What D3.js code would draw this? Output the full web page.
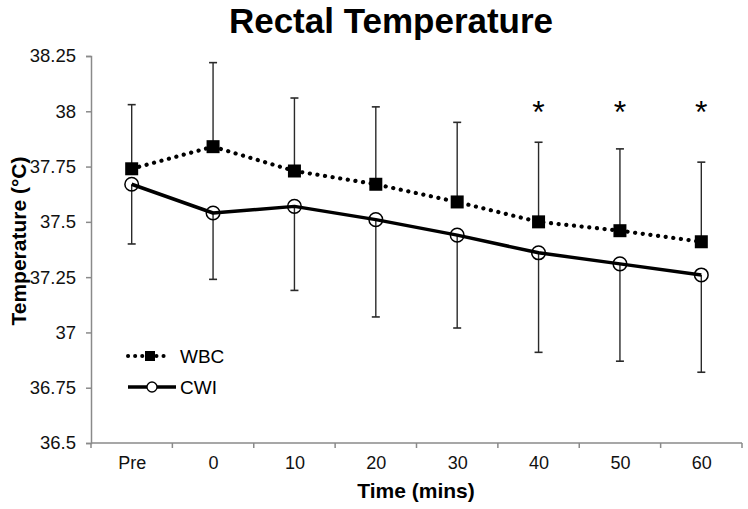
<!DOCTYPE html>
<html>
<head>
<meta charset="utf-8">
<script src="https://cdn.jsdelivr.net/npm/d3@7"></script>
<style>
  body { margin: 0; background: #fff; }
  svg { font-family: "Liberation Sans", Arial, sans-serif; }
</style>
</head>
<body>
<div id="chart"></div>
<script>
const categories = ["Pre", "0", "10", "20", "30", "40", "50", "60"];
const wbcMean = [37.74, 37.84, 37.73, 37.67, 37.59, 37.50, 37.46, 37.41];
const wbcUpper = [38.03, 38.22, 38.06, 38.02, 37.95, 37.86, 37.83, 37.77];
const cwiMean = [37.67, 37.54, 37.57, 37.51, 37.44, 37.36, 37.31, 37.26];
const cwiLower = [37.40, 37.24, 37.19, 37.07, 37.02, 36.91, 36.87, 36.82];
const yTicks = [36.5, 36.75, 37, 37.25, 37.5, 37.75, 38, 38.25];
const significant = ["40", "50", "60"];

const width = 748,
  height = 509,
  margin = { top: 56, right: 6, bottom: 66, left: 91 };

const svg = d3.select("#chart")
  .append("svg")
  .attr("width", width)
  .attr("height", height);

const xBand = d3.scaleBand()
  .domain(categories)
  .range([margin.left, width - margin.right])
  .paddingInner(0)
  .paddingOuter(0);

const xScale = d => xBand(d) + xBand.bandwidth() / 2;

const yScale = d3.scaleLinear()
  .domain([36.5, 38.25])
  .range([height - margin.bottom, margin.top]);

const axisColor = "#8a8a8a";

// title
svg.append("text")
  .attr("x", 391)
  .attr("y", 33)
  .attr("text-anchor", "middle")
  .attr("font-size", 35)
  .attr("font-weight", "bold")
  .text("Rectal Temperature");

// y axis
const yAxis = svg.append("g")
  .attr("transform", `translate(${margin.left},0)`)
  .call(d3.axisLeft(yScale)
    .tickValues(yTicks)
    .tickSize(5)
    .tickPadding(10)
    .tickFormat(d => String(+d.toFixed(2))));
yAxis.select(".domain").attr("stroke", axisColor).attr("stroke-width", 1.5);
yAxis.selectAll(".tick line").attr("stroke", axisColor).attr("stroke-width", 1.5);
yAxis.selectAll(".tick text")
  .attr("font-size", 18.5)
  .attr("fill", "#111")
  .attr("font-family", "Liberation Sans, Arial, sans-serif");

// x axis: labels at band centres, ticks on band edges
const xAxisY = height - margin.bottom;
const xAxis = svg.append("g")
  .attr("transform", `translate(0,${xAxisY})`)
  .call(d3.axisBottom(d3.scalePoint().domain(categories)
      .range([xScale(categories[0]), xScale(categories[categories.length - 1])]))
    .tickSize(0)
    .tickPadding(13));
xAxis.select(".domain").remove();
xAxis.selectAll(".tick text")
  .attr("font-size", 18)
  .attr("fill", "#111")
  .attr("font-family", "Liberation Sans, Arial, sans-serif");

const edges = categories.map(c => xBand(c)).concat([xBand.range()[1]]);
svg.append("line")
  .attr("x1", margin.left)
  .attr("x2", xBand.range()[1])
  .attr("y1", xAxisY)
  .attr("y2", xAxisY)
  .attr("stroke", axisColor)
  .attr("stroke-width", 1.5);
svg.selectAll(".xtick")
  .data(edges)
  .join("line")
  .attr("class", "xtick")
  .attr("x1", d => d)
  .attr("x2", d => d)
  .attr("y1", xAxisY)
  .attr("y2", xAxisY + 5)
  .attr("stroke", axisColor)
  .attr("stroke-width", 1.5);

// axis titles
svg.append("text")
  .attr("x", 416)
  .attr("y", 498)
  .attr("text-anchor", "middle")
  .attr("font-size", 21)
  .attr("font-weight", "bold")
  .text("Time (mins)");

svg.append("text")
  .attr("transform", "translate(26,241) rotate(-90)")
  .attr("text-anchor", "middle")
  .attr("font-size", 21)
  .attr("font-weight", "bold")
  .text("Temperature (\u00B0C)");

// error bars
const capHalf = 4;
const errColor = "#2a2a2a";
const errGroup = svg.append("g");

function errorBars(from, to) {
  const data = categories.map((c, i) => ({ c, a: from[i], b: to[i] }));
  const g = errGroup.append("g");
  g.selectAll(".stem")
    .data(data)
    .join("line")
    .attr("x1", d => xScale(d.c))
    .attr("x2", d => xScale(d.c))
    .attr("y1", d => yScale(d.a))
    .attr("y2", d => yScale(d.b))
    .attr("stroke", errColor)
    .attr("stroke-width", 1.4);
  g.selectAll(".cap")
    .data(data)
    .join("line")
    .attr("x1", d => xScale(d.c) - capHalf)
    .attr("x2", d => xScale(d.c) + capHalf)
    .attr("y1", d => yScale(d.b))
    .attr("y2", d => yScale(d.b))
    .attr("stroke", errColor)
    .attr("stroke-width", 1.6);
}
errorBars(wbcMean, wbcUpper);
errorBars(cwiMean, cwiLower);

// lines
const line = d3.line()
  .x(d => xScale(d.c))
  .y(d => yScale(d.v));

const cwiData = categories.map((c, i) => ({ c, v: cwiMean[i] }));
const wbcData = categories.map((c, i) => ({ c, v: wbcMean[i] }));

svg.append("path")
  .datum(cwiData)
  .attr("d", line)
  .attr("fill", "none")
  .attr("stroke", "#000")
  .attr("stroke-width", 3.5)
  .attr("stroke-linejoin", "round");

svg.append("path")
  .datum(wbcData)
  .attr("d", line)
  .attr("fill", "none")
  .attr("stroke", "#000")
  .attr("stroke-width", 4.2)
  .attr("stroke-linecap", "round")
  .attr("stroke-dasharray", "0.1 7.6");

// markers
svg.selectAll(".cwi-pt")
  .data(cwiData)
  .join("circle")
  .attr("class", "cwi-pt")
  .attr("cx", d => xScale(d.c))
  .attr("cy", d => yScale(d.v))
  .attr("r", 6.8)
  .attr("fill", "none")
  .attr("stroke", "#000")
  .attr("stroke-width", 1.5);

const sq = 13;
svg.selectAll(".wbc-pt")
  .data(wbcData)
  .join("rect")
  .attr("class", "wbc-pt")
  .attr("x", d => xScale(d.c) - sq / 2)
  .attr("y", d => yScale(d.v) - sq / 2)
  .attr("width", sq)
  .attr("height", sq)
  .attr("fill", "#000");

// significance markers
svg.selectAll(".star")
  .data(significant)
  .join("text")
  .attr("class", "star")
  .attr("x", d => xScale(d))
  .attr("y", 123)
  .attr("text-anchor", "middle")
  .attr("font-size", 32)
  .text("*");

// legend
const legend = svg.append("g");
const lx1 = 128, lx2 = 170, lxm = 150;
legend.append("line")
  .attr("x1", lx1).attr("x2", lx2)
  .attr("y1", 356).attr("y2", 356)
  .attr("stroke", "#000")
  .attr("stroke-width", 4)
  .attr("stroke-linecap", "round")
  .attr("stroke-dasharray", "0.1 7");
legend.append("rect")
  .attr("x", lxm - 5).attr("y", 351)
  .attr("width", 10).attr("height", 10)
  .attr("fill", "#000");
legend.append("text")
  .attr("x", 180).attr("y", 363)
  .attr("font-size", 19)
  .text("WBC");

legend.append("line")
  .attr("x1", lx1).attr("x2", lx2 + 6)
  .attr("y1", 387).attr("y2", 387)
  .attr("stroke", "#000")
  .attr("stroke-width", 3.5);
legend.append("circle")
  .attr("cx", lxm + 2).attr("cy", 387)
  .attr("r", 5)
  .attr("fill", "#fff")
  .attr("stroke", "#000")
  .attr("stroke-width", 1.3);
legend.append("text")
  .attr("x", 180).attr("y", 394)
  .attr("font-size", 19)
  .text("CWI");
</script>
</body>
</html>
